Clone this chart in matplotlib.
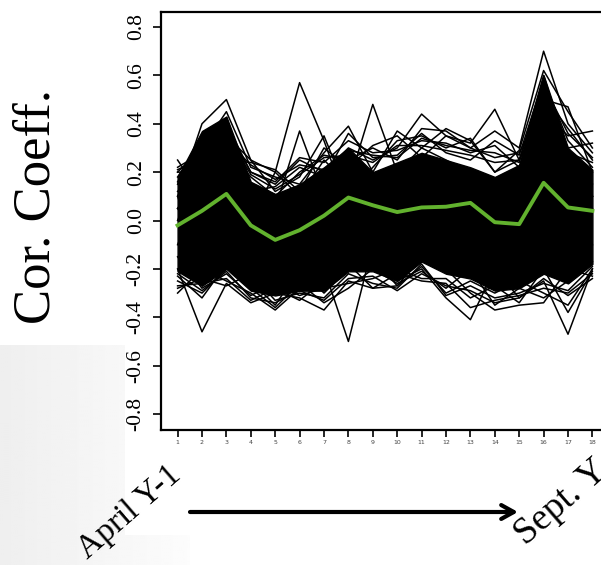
import numpy as np
import matplotlib.pyplot as plt
from matplotlib.patches import Rectangle

# months from April Y-1 to Sept. Y
months = list(range(1, 19))
y_ticks = [-0.8, -0.6, -0.4, -0.2, 0.0, 0.2, 0.4, 0.6, 0.8]
y_tick_labels = ['-0.8', '-0.6', '-0.4', '-0.2', '0.0', '0.2', '0.4', '0.6', '0.8']

# mean correlation (green)
mean_cor = [-0.02, 0.04, 0.11, -0.02, -0.08, -0.04, 0.02, 0.095, 0.063, 0.035,
            0.054, 0.057, 0.073, -0.007, -0.015, 0.156, 0.054, 0.04]

# dense core of the member lines (where it reads as solid black)
core_hi = [0.18, 0.37, 0.43, 0.16, 0.11, 0.15, 0.22, 0.30, 0.20, 0.24,
           0.28, 0.25, 0.22, 0.18, 0.23, 0.60, 0.30, 0.21]
core_lo = [-0.21, -0.27, -0.20, -0.29, -0.31, -0.29, -0.29, -0.21, -0.21, -0.25,
           -0.17, -0.22, -0.24, -0.29, -0.28, -0.22, -0.26, -0.18]

# individual member lines that stick out of the core
member_lines = [
    [0.25, 0.10, 0.05, 0.00, 0.20, 0.57, 0.33, 0.05, 0.10, 0.05, 0.15, 0.10, 0.05, 0.00, 0.10, 0.30, 0.10, 0.05],
    [0.05, 0.20, 0.10, 0.05, 0.05, 0.37, 0.10, 0.20, 0.05, 0.10, 0.20, 0.15, 0.10, 0.05, 0.05, 0.40, 0.20, 0.10],
    [0.10, 0.40, 0.50, 0.25, 0.20, 0.10, 0.25, 0.15, 0.48, 0.20, 0.30, 0.25, 0.20, 0.15, 0.20, 0.50, 0.47, 0.20],
    [0.20, 0.30, 0.45, 0.22, 0.18, 0.15, 0.28, 0.39, 0.20, 0.37, 0.30, 0.38, 0.33, 0.20, 0.25, 0.45, 0.35, 0.37],
    [0.00, 0.25, 0.40, 0.20, 0.15, 0.25, 0.20, 0.30, 0.25, 0.30, 0.44, 0.35, 0.32, 0.46, 0.25, 0.55, 0.25, 0.10],
    [0.15, 0.35, 0.30, 0.18, 0.10, 0.20, 0.27, 0.25, 0.30, 0.25, 0.38, 0.37, 0.30, 0.37, 0.30, 0.70, 0.40, 0.28],
    [0.20, 0.20, 0.35, 0.25, 0.12, 0.18, 0.35, 0.10, 0.22, 0.33, 0.35, 0.30, 0.34, 0.20, 0.29, 0.62, 0.45, 0.30],
    [0.22, 0.28, 0.38, 0.20, 0.16, 0.26, 0.24, 0.33, 0.28, 0.29, 0.33, 0.32, 0.28, 0.31, 0.22, 0.52, 0.38, 0.25],
    [0.18, 0.33, 0.25, 0.24, 0.21, 0.12, 0.30, 0.22, 0.31, 0.35, 0.26, 0.35, 0.30, 0.26, 0.28, 0.48, 0.30, 0.32],
    [0.12, 0.24, 0.42, 0.12, 0.14, 0.22, 0.18, 0.36, 0.26, 0.27, 0.36, 0.28, 0.25, 0.33, 0.27, 0.58, 0.33, 0.22],
    [0.16, 0.31, 0.36, 0.19, 0.13, 0.19, 0.26, 0.27, 0.24, 0.31, 0.31, 0.29, 0.27, 0.24, 0.25, 0.56, 0.36, 0.26],
    [0.21, 0.26, 0.33, 0.23, 0.17, 0.23, 0.21, 0.29, 0.27, 0.26, 0.34, 0.31, 0.29, 0.28, 0.24, 0.60, 0.28, 0.24],
    [-0.30, -0.20, -0.25, -0.30, -0.37, -0.28, -0.20, -0.50, -0.10, -0.25, -0.20, -0.32, -0.41, -0.20, -0.32, -0.25, -0.47, -0.20],
    [-0.20, -0.46, -0.26, -0.34, -0.30, -0.32, -0.37, -0.25, -0.28, -0.27, -0.15, -0.20, -0.30, -0.37, -0.35, -0.34, -0.20, -0.23],
    [-0.25, -0.30, -0.20, -0.25, -0.35, -0.20, -0.30, -0.20, -0.15, -0.27, -0.19, -0.30, -0.25, -0.30, -0.25, -0.30, -0.35, -0.20],
    [-0.27, -0.26, -0.24, -0.33, -0.28, -0.33, -0.25, -0.18, -0.28, -0.22, -0.25, -0.26, -0.36, -0.33, -0.31, -0.28, -0.30, -0.22],
    [-0.23, -0.32, -0.18, -0.28, -0.36, -0.26, -0.34, -0.28, -0.20, -0.26, -0.21, -0.28, -0.20, -0.35, -0.28, -0.32, -0.25, -0.17],
    [-0.15, -0.28, -0.22, -0.31, -0.26, -0.31, -0.28, -0.26, -0.24, -0.20, -0.24, -0.24, -0.32, -0.27, -0.34, -0.20, -0.38, -0.21],
    [-0.28, -0.24, -0.27, -0.22, -0.33, -0.30, -0.32, -0.22, -0.26, -0.28, -0.18, -0.31, -0.27, -0.32, -0.30, -0.26, -0.29, -0.19],
    [-0.22, -0.29, -0.21, -0.32, -0.34, -0.29, -0.33, -0.24, -0.23, -0.29, -0.22, -0.27, -0.29, -0.34, -0.32, -0.24, -0.31, -0.24],
    [0.05, -0.10, 0.20, -0.15, 0.00, 0.10, -0.20, 0.25, -0.05, 0.15, -0.05, 0.20, -0.10, 0.10, -0.20, 0.35, -0.15, 0.10],
    [-0.10, 0.15, -0.05, 0.10, -0.20, 0.05, 0.15, -0.15, 0.20, -0.10, 0.25, -0.05, 0.15, -0.20, 0.15, 0.10, 0.20, -0.10],
    [0.10, -0.20, 0.30, -0.10, 0.05, -0.15, 0.10, 0.20, -0.20, 0.05, 0.10, -0.15, 0.20, 0.00, -0.10, 0.45, -0.20, 0.15],
]

W, H = 601, 565
fig = plt.figure(figsize=(6.01, 5.65), dpi=100)

# slide background: faint grey gradient with white boxes on top
bg = fig.add_axes([0, 0, 1, 1], zorder=-10)
gx = np.linspace(0, 1, 300)
grad = np.clip(0.935 + 0.055 * gx / 0.32, 0, 1)
bg.imshow(np.vstack([grad, grad]), cmap='gray', vmin=0, vmax=1,
          extent=(0, W, H, 0), aspect='auto', interpolation='bilinear')
for x0, y0, w, h in [(0, 0, 125, 345), (125, 0, 476, 535), (190, 535, 411, 30)]:
    bg.add_patch(Rectangle((x0, y0), w, h, facecolor='white', lw=0))
bg.set_xlim(0, W)
bg.set_ylim(H, 0)
bg.axis('off')

ax = fig.add_axes([161 / W, 135 / H, 448 / W, 418 / H])
ax.fill_between(months, core_lo, core_hi, color='black', lw=1.0)
for ln in member_lines:
    ax.plot(months, ln, color='black', lw=1.1)
ax.plot(months, mean_cor, color='#62b22e', lw=2.8)

ax.set_xlim(0.32, 18.68)
ax.set_ylim(-0.866, 0.862)
ax.set_xticks(months)
ax.set_xticklabels([str(m) for m in months], fontsize=4.5, color='#444444')
ax.tick_params(axis='x', length=5, width=1.2, pad=2.5)
ax.set_yticks(y_ticks)
ax.set_yticklabels(y_tick_labels, rotation=90, va='center', fontsize=15.5,
                   family='Liberation Serif')
ax.tick_params(axis='y', length=6, width=1.2, pad=5)
for s in ax.spines.values():
    s.set_linewidth(1.6)

fig.text(37 / W, 1 - 206 / H, 'Cor. Coeff.', rotation=90, fontsize=38,
         family='Liberation Serif', ha='center', va='center')

bg.annotate('', xy=(518, 512), xytext=(190, 512),
            arrowprops=dict(arrowstyle='->,head_length=0.9,head_width=0.5',
                            lw=3, color='black', shrinkA=0, shrinkB=0))
bg.text(129, 512, 'April Y-1', rotation=41, rotation_mode='anchor',
        ha='center', va='center', fontsize=24, family='Liberation Serif')
bg.text(526, 546, 'Sept. Y', rotation=41, rotation_mode='anchor',
        ha='left', va='baseline', fontsize=27, family='Liberation Serif')

fig.savefig('out.png', dpi=100)
